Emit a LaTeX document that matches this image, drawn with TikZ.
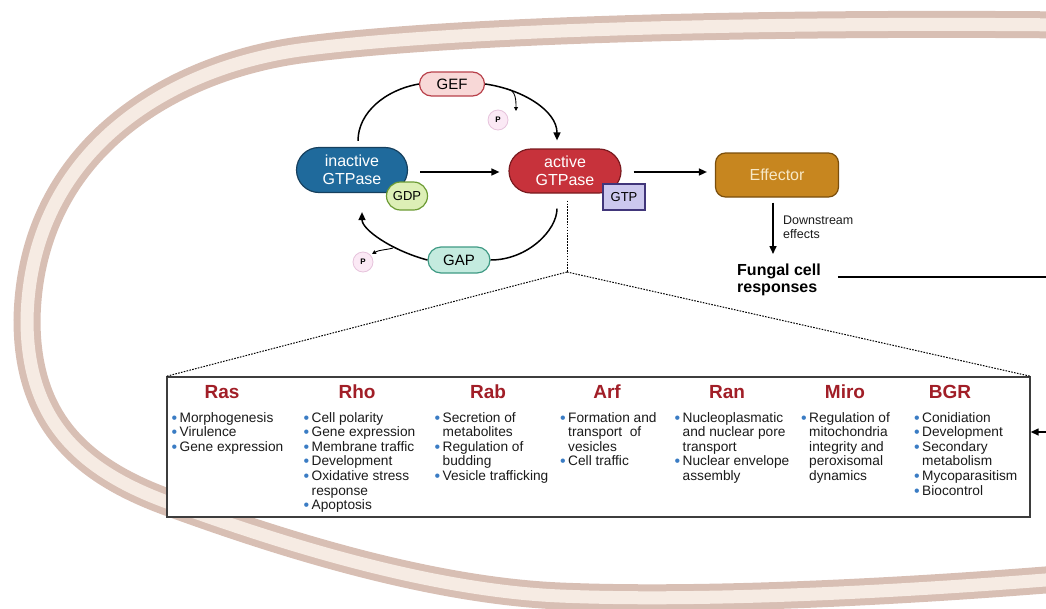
\documentclass[tikz,border=0pt]{standalone}
\usepackage{fontspec}
\setmainfont{Liberation Sans}
\usetikzlibrary{arrows.meta,shapes.misc}
\definecolor{memtan}{HTML}{D8BFB4}
\definecolor{memlight}{HTML}{F6EBE3}
\definecolor{inactfill}{HTML}{1F6A9C}
\definecolor{inactbord}{HTML}{16405E}
\definecolor{actfill}{HTML}{C7323B}
\definecolor{actbord}{HTML}{7A1A1F}
\definecolor{geffill}{HTML}{F8D8D7}
\definecolor{gefbord}{HTML}{B8404A}
\definecolor{gapfill}{HTML}{C4EBDF}
\definecolor{gapbord}{HTML}{3F9A84}
\definecolor{gdpfill}{HTML}{DDEFB6}
\definecolor{gdpbord}{HTML}{6C9B34}
\definecolor{gtpfill}{HTML}{CCC8EE}
\definecolor{gtpbord}{HTML}{41367A}
\definecolor{efffill}{HTML}{C7861F}
\definecolor{effbord}{HTML}{7A4E0C}
\definecolor{efftext}{HTML}{F7E8C6}
\definecolor{pfill}{HTML}{FBE9F5}
\definecolor{pbord}{HTML}{E6C3DC}
\definecolor{headred}{HTML}{A11E27}
\definecolor{bblue}{HTML}{3A7CC4}
\definecolor{ink}{HTML}{1B1B1B}
\newcommand{\bul}{\makebox[8pt][l]{\smash{\raisebox{-0.9pt}{\textcolor{bblue}{\fontsize{16}{16}\selectfont •}}}}}
\newcommand{\ind}{\hspace*{8pt}}
\def\mempath{(1070,-25) .. controls (750,-22) and (450,-30) .. (300,-50) .. controls (170,-68) and (30,-150) .. (27,-320) .. controls (27,-420) and (80,-470) .. (167,-502) .. controls (260,-536) and (420,-590) .. (560,-596) .. controls (700,-602) and (900,-592) .. (1070,-578)}
\tikzset{
  arr/.style={line width=1.5pt, -{Triangle[length=8pt,width=7pt]}},
  ln/.style={line width=1.5pt},
  smallarr/.style={line width=0.9pt, -{Triangle[length=4pt,width=4pt]}},
  pill/.style={rounded rectangle, draw, line width=1.2pt, inner sep=2pt, align=center, font=\fontsize{15}{18}\selectfont},
  phos/.style={circle, draw=pbord, fill=pfill, line width=0.8pt, minimum size=20pt, inner sep=0pt, font=\bfseries\fontsize{8}{8}\selectfont},
  head/.style={font=\bfseries\fontsize{19}{20}\selectfont, text=headred, inner sep=0pt},
  col/.style={anchor=north west, align=left, inner sep=0pt, text=ink, font=\fontsize{13.7}{14.6}\selectfont},
  dots/.style={line width=1pt, dash pattern=on 1.6pt off 1.3pt}
}
\begin{document}
\begin{tikzpicture}[x=1pt,y=1pt]
\useasboundingbox (0,0) rectangle (1046,-608);
\begin{scope}
\clip (0,0) rectangle (1046,-608);
\draw[memtan, line width=27pt] \mempath;
\draw[memlight, line width=13pt] \mempath;
\end{scope}

% box
\node[draw=ink!85, line width=1.4pt, fill=white, minimum width=863pt, minimum height=140pt, inner sep=0pt] (box) at (598.5,-447) {};

% cycle nodes
\node[pill, fill=inactfill, draw=inactbord, text=white, minimum width=115pt, minimum height=45pt, font=\fontsize{16}{18}\selectfont] (inact) at (352,-170) {inactive\\GTPase};
\node[pill, fill=gdpfill, draw=gdpbord, minimum width=45pt, minimum height=28pt, font=\fontsize{13}{15}\selectfont] (gdp) at (407,-196) {GDP};
\node[pill, fill=actfill, draw=actbord, text=white, minimum width=116pt, minimum height=44pt, font=\fontsize{16}{18}\selectfont] (act) at (565,-171) {active\\GTPase};
\node[draw=gtpbord, fill=gtpfill, line width=1.2pt, minimum width=42pt, minimum height=26pt, inner sep=1pt, font=\fontsize{13}{15}\selectfont] (gtp) at (624,-197) {GTP};
\node[pill, fill=geffill, draw=gefbord, minimum width=69pt, minimum height=24pt] (gef) at (452,-84) {GEF};
\node[pill, fill=gapfill, draw=gapbord, minimum width=66pt, minimum height=26pt] (gap) at (459,-260) {GAP};
\node[phos] (p1) at (498,-120) {P};
\node[phos] (p2) at (363,-262) {P};
\node[draw=effbord, fill=efffill, line width=1.2pt, rounded corners=10pt, minimum width=123pt, minimum height=44pt, text=efftext, font=\fontsize{16}{18}\selectfont] (eff) at (777,-175) {Effector};
\node[anchor=north west, align=left, inner sep=0pt, text=ink, font=\fontsize{12.5}{13.5}\selectfont] (down) at (783,-216) {Downstream\\effects};
\node[anchor=north west, align=left, inner sep=0pt, text=black, font=\bfseries\fontsize{16}{17}\selectfont] (fcr) at (737,-264) {Fungal cell\\responses};

% connectors
\draw[arr] ([xshift=12pt,yshift=-2pt]inact.east) -- ([xshift=-9pt,yshift=-1pt]act.west);
\draw[arr] ([xshift=12pt,yshift=-1pt]act.east) -- ([xshift=-8pt,yshift=3pt]eff.west);
\draw[ln, shorten <=6pt] ([xshift=6pt]inact.north) to[out=90,in=190] (gef.west);
\draw[arr, shorten >=8pt] (gef.east) to[out=-8,in=90] ([xshift=-8pt]act.north);
\draw[ln, shorten <=15pt] ([xshift=-8pt]act.south) to[out=-90,in=0] (gap.east);
\draw[arr, shorten >=19pt] (gap.west) to[out=165,in=-90] ([xshift=10pt]inact.south);
\coordinate (s1) at (507,-89);
\coordinate (s1e) at (516,-111);
\draw[smallarr] (s1) to[out=-5,in=90] (s1e);
\coordinate (s2) at (393,-248);
\coordinate (s2e) at (372,-254);
\draw[smallarr] (s2) to[out=195,in=30] (s2e);

\coordinate (apex) at (567,-272);
\draw[dots] ([xshift=2pt,yshift=-7pt]act.south) -- (apex);
\draw[dots] (apex) -- (box.north west);
\draw[dots] (apex) -- (box.north east);

\draw[arr, shorten <=5pt, shorten >=10pt] ([xshift=-4pt]eff.south) -- ([xshift=-4pt]eff.south |- fcr.north);

\begin{scope}
\clip (0,0) rectangle (1046,-608);
\coordinate (r1) at (1070,-277);
\coordinate (r2) at (1070,-432);
\draw[arr] ([xshift=17pt]fcr.east |- r1) -- (r1) -- (r2) -- (r2 -| box.east);
\end{scope}

% headings
\node[head] (hras) at (222,-392) {Ras};
\node[head] (hrho) at (357,-392) {Rho};
\node[head] (hrab) at (488,-392) {Rab};
\node[head] (harf) at (607,-392) {Arf};
\node[head] (hran) at (727,-392) {Ran};
\node[head] (hmiro) at (845,-392) {Miro};
\node[head] (hbgr) at (950,-392) {BGR};

% columns
\node[col] (cras) at (171.5,-412) {\bul Morphogenesis\\\bul Virulence\\\bul Gene expression};
\node[col] (crho) at (303.5,-412) {\bul Cell polarity\\\bul Gene expression\\\bul Membrane traffic\\\bul Development\\\bul Oxidative stress\\\ind response\\\bul Apoptosis};
\node[col] (crab) at (434.5,-412) {\bul Secretion of\\\ind metabolites\\\bul Regulation of\\\ind budding\\\bul Vesicle trafficking};
\node[col] (carf) at (560,-412) {\bul Formation and\\\ind transport~ of\\\ind vesicles\\\bul Cell traffic};
\node[col] (cran) at (674.5,-412) {\bul Nucleoplasmatic\\\ind and nuclear pore\\\ind transport\\\bul Nuclear envelope\\\ind assembly};
\node[col] (cmiro) at (801,-412) {\bul Regulation of\\\ind mitochondria\\\ind integrity and\\\ind peroxisomal\\\ind dynamics};
\node[col] (cbgr) at (914,-412) {\bul Conidiation\\\bul Development\\\bul Secondary\\\ind metabolism\\\bul Mycoparasitism\\\bul Biocontrol};
\end{tikzpicture}
\end{document}
